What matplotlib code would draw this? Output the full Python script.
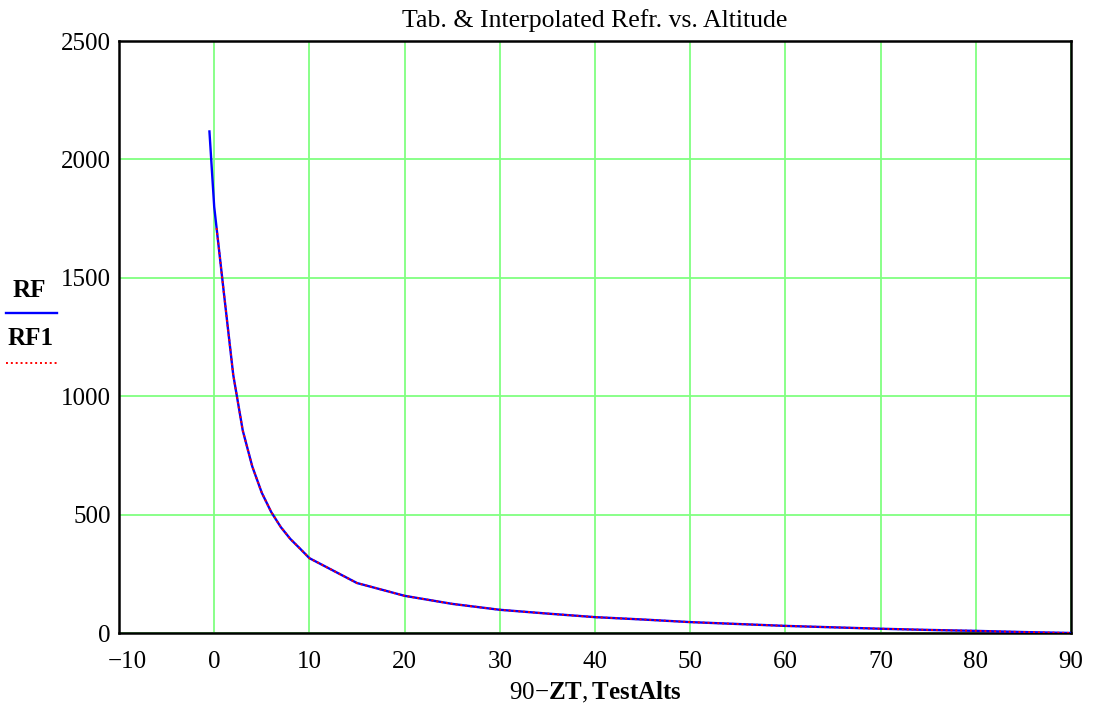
"""
Tabulated vs interpolated refraction against altitude (Mathcad-style plot).
"""

import matplotlib
matplotlib.use("Agg")
import matplotlib.pyplot as plt
import matplotlib.transforms as mtransforms
from matplotlib.lines import Line2D


# tabulated refraction (arcsec) at altitude 90 - ZT (deg)
alt_tab = [-0.5, 0, 1, 2, 3, 4, 5, 6, 7, 8, 9, 10, 15, 20, 25, 30, 35,
           40, 45, 50, 55, 60, 65, 70, 75, 80, 85, 90]
rf = [2118, 1800, 1442, 1090, 855, 703, 592, 510, 447, 397, 357, 316,
      211, 157, 123, 98, 82, 67, 57, 46, 38, 30, 24, 18, 13, 9, 4, 0]

# interpolated refraction at the test altitudes
test_alts = [0.25, 1, 2, 3, 4, 5, 6, 7, 8, 9, 10, 15, 20, 25, 30, 35,
             40, 45, 50, 55, 60, 65, 70, 75, 80, 85, 90]
rf1 = [1710, 1442, 1090, 855, 703, 592, 510, 447, 397, 357, 316, 211,
       157, 123, 98, 82, 67, 57, 46, 38, 30, 24, 18, 13, 9, 4, 0]

x_ticks = [-10, 0, 10, 20, 30, 40, 50, 60, 70, 80, 90]
y_ticks = [0, 500, 1000, 1500, 2000, 2500]

plt.rcParams["font.family"] = ["Liberation Serif", "DejaVu Serif"]
plt.rcParams["mathtext.fontset"] = "custom"
plt.rcParams["mathtext.rm"] = "Liberation Serif"
plt.rcParams["mathtext.bf"] = "Liberation Serif:bold"

fig = plt.figure(figsize=(10.93, 7.13), dpi=100)
W, H = 1093, 713
ax = fig.add_axes([119 / W, (H - 633) / H, (1071 - 119) / W, (633 - 41) / H])

ax.plot(alt_tab, rf, color="#0000ff", lw=1.7, zorder=3)
ax.plot(test_alts, rf1, color="#ff0000", lw=1.4, ls=(0, (1, 1.5)), zorder=4)

ax.set_xlim(-10, 90)
ax.set_ylim(0, 2500)
ax.set_xticks(x_ticks)
ax.set_yticks(y_ticks)
ax.set_xticklabels(["\u221210" if t < 0 else str(t) for t in x_ticks])
ax.tick_params(length=0, labelsize=18)
ax.tick_params(axis="x", pad=13)
ax.tick_params(axis="y", pad=6)
# Mathcad puts the first x label a little to the right of the corner
first = ax.get_xticklabels()[0]
first.set_transform(first.get_transform()
                    + mtransforms.ScaledTranslation(0.08, 0, fig.dpi_scale_trans))
ax.grid(True, color="#80ff80", lw=1.3)
ax.set_axisbelow(True)
for s in ax.spines.values():
    s.set_color("black")
    s.set_linewidth(1.8)

ax.set_title("Tab. & Interpolated Refr. vs. Altitude", fontsize=18.5, pad=10)
ax.set_xlabel(r"$\mathrm{90}\mathrm{-}\mathbf{ZT}\mathrm{,}\,\mathbf{TestAlts}$",
              fontsize=18, labelpad=5)

# legend on the left, Mathcad style
fig.text(29 / W, 1 - 290 / H, "RF", fontsize=18, fontweight="bold",
         ha="center", va="center")
fig.add_artist(Line2D([6 / W, 57 / W], [1 - 313 / H, 1 - 313 / H],
                      color="#0000ff", lw=1.7))
fig.text(31 / W, 1 - 338 / H, "RF1", fontsize=18, fontweight="bold",
         ha="center", va="center")
fig.add_artist(Line2D([6 / W, 57 / W], [1 - 363 / H, 1 - 363 / H],
                      color="#ff0000", lw=1.4, ls=(0, (1, 1.5))))

fig.savefig("out.png", dpi=100)
